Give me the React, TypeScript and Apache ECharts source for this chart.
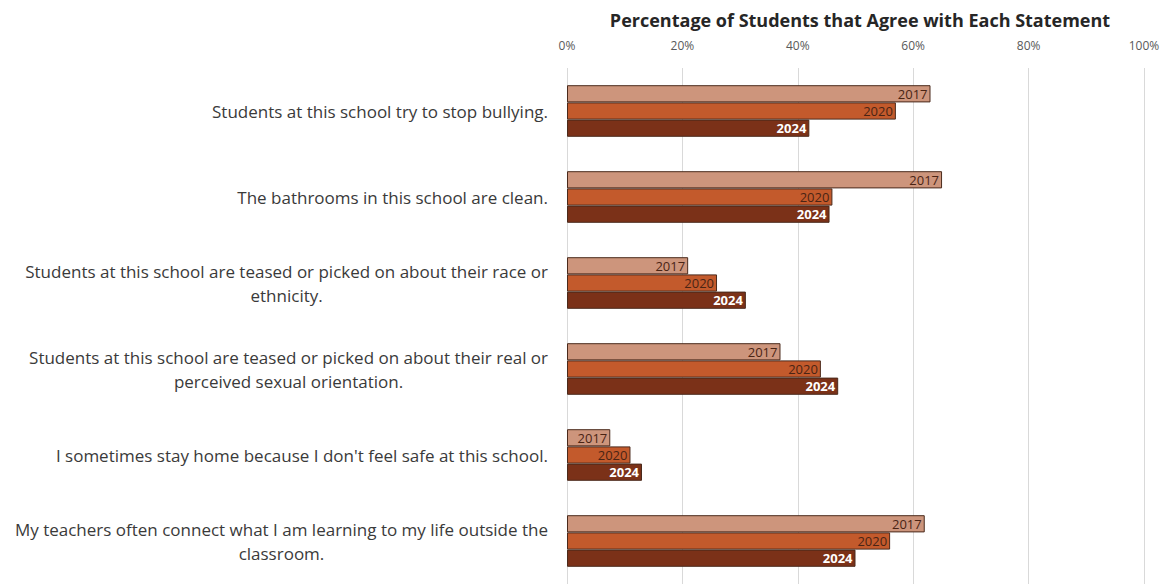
import React, { useEffect, useRef } from "react";
import * as echarts from "echarts";

const categories = [
  "Students at this school try to stop bullying.",
  "The bathrooms in this school are clean.",
  "Students at this school are teased or picked on about their race or\nethnicity.",
  "Students at this school are teased or picked on about their real or\nperceived sexual orientation.",
  "I sometimes stay home because I don't feel safe at this school.",
  "My teachers often connect what I am learning to my life outside the\nclassroom.",
];
const seriesNames = ["2017", "2020", "2024"];
const values2017 = [63, 65, 21, 37, 7.5, 62];
const values2020 = [57, 46, 26, 44, 11, 56];
const values2024 = [42, 45.5, 31, 47, 13, 50];
const titleText = "Percentage of Students that Agree with Each Statement";

const FONT = "Open Sans";
const colors = ["#cd957c", "#c35a2c", "#7b3118"];
const labelColors = ["#4a2414", "#4a2414", "#ffffff"];

export default function App() {
  const ref = useRef<HTMLDivElement>(null);
  useEffect(() => {
    if (!ref.current) return;
    const chart = echarts.init(ref.current, null, { renderer: "svg" });
    const data = [values2017, values2020, values2024];
    chart.setOption({
      animation: false,
      backgroundColor: "#ffffff",
      title: {
        text: titleText,
        left: 855,
        textAlign: "center",
        top: 6,
        textStyle: { fontFamily: FONT, fontSize: 18, fontWeight: "bold", color: "#262626" },
      },
      grid: { left: 567, right: 20, top: 68, bottom: 0, containLabel: false },
      xAxis: {
        type: "value",
        position: "top",
        min: 0,
        max: 100,
        interval: 20,
        axisLine: { show: false },
        axisTick: { show: false },
        splitLine: { show: true, lineStyle: { color: "#d9d9d9", width: 1 } },
        axisLabel: {
          formatter: "{value}%",
          fontFamily: FONT,
          fontSize: 12,
          color: "#595959",
          margin: 17,
        },
      },
      yAxis: {
        type: "category",
        inverse: true,
        data: categories,
        axisLine: { show: false },
        axisTick: { show: false },
        axisLabel: {
          margin: 19,
          align: "right",
          formatter: (v: string) => v.split("\n").map((l) => `{c|${l}}`).join("\n"),
          rich: {
            c: { align: "center", fontFamily: FONT, fontSize: 17, lineHeight: 24, color: "#3a3a3a" },
          },
        },
      },
      series: seriesNames.map((name, i) => ({
        name,
        type: "bar",
        data: data[i],
        barGap: "0%",
        barCategoryGap: "40%",
        itemStyle: { color: colors[i], borderColor: "#4a2a1c", borderWidth: 1 },
        label: {
          show: true,
          position: "insideRight",
          formatter: "{a}",
          fontFamily: FONT,
          fontSize: 13,
          fontWeight: i === 2 ? "bold" : "normal",
          color: labelColors[i],
          distance: 3,
        },
      })),
    });
    return () => chart.dispose();
  }, []);
  return (
    <div
      ref={ref}
      style={{ position: "absolute", left: 0, top: 0, width: 1164, height: 584 }}
    />
  );
}
